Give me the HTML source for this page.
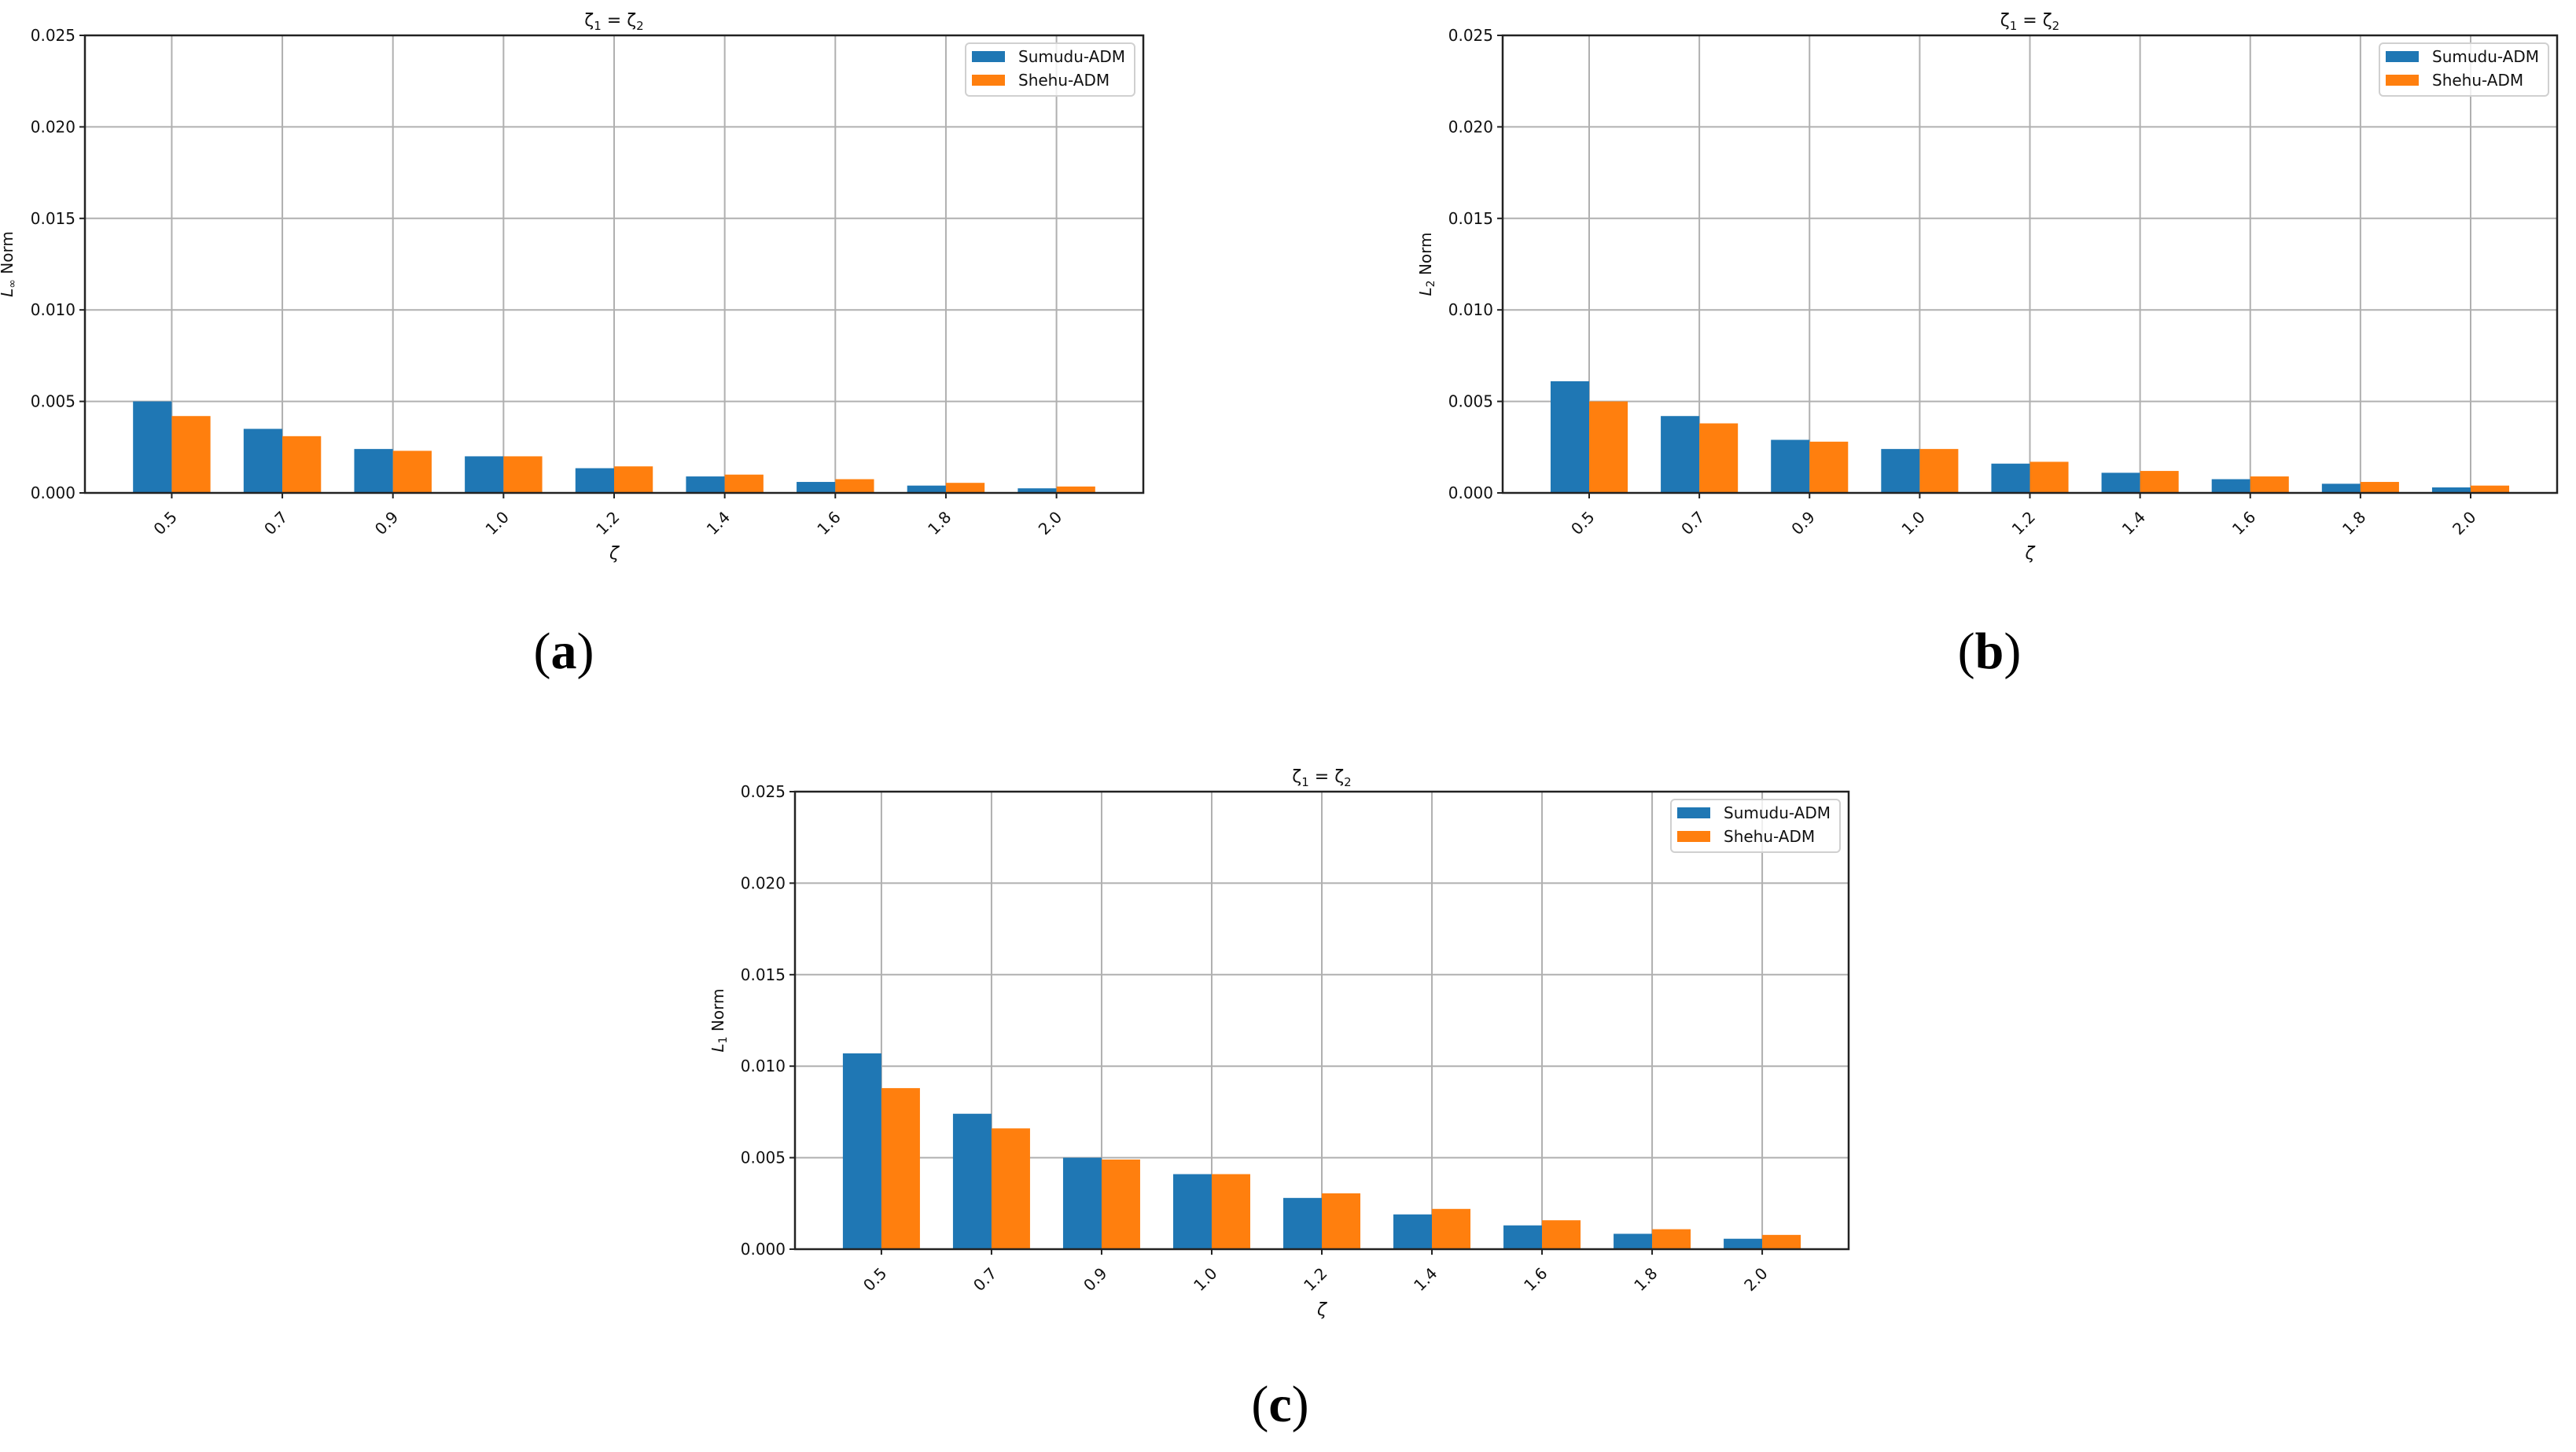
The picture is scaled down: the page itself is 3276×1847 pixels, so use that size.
<!DOCTYPE html>
<html><head><meta charset="utf-8"><style>
html,body{margin:0;padding:0;background:#fff;}
svg{display:block;font-family:"DejaVu Sans","Liberation Sans",sans-serif;}
</style></head><body>
<svg id="fig" width="3276" height="1847" viewBox="0 0 3276 1847" xmlns="http://www.w3.org/2000/svg">
<text x="717" y="850" font-family="'Liberation Serif',serif" font-size="66" text-anchor="middle">(<tspan font-weight="bold">a</tspan>)</text>
<text x="2530" y="850" font-family="'Liberation Serif',serif" font-size="66" text-anchor="middle">(<tspan font-weight="bold">b</tspan>)</text>
<text x="1628" y="1808" font-family="'Liberation Serif',serif" font-size="66" text-anchor="middle">(<tspan font-weight="bold">c</tspan>)</text>
</svg>
<script>
const categories = ["0.5","0.7","0.9","1.0","1.2","1.4","1.6","1.8","2.0"];
const yTicks = [0, 0.005, 0.01, 0.015, 0.02, 0.025];
const yTickLabels = ["0.000","0.005","0.010","0.015","0.020","0.025"];
const seriesNames = ["Sumudu-ADM","Shehu-ADM"];
const linfSumudu = [0.0050,0.0035,0.0024,0.0020,0.00135,0.0009,0.0006,0.0004,0.00025];
const linfShehu  = [0.0042,0.0031,0.0023,0.0020,0.00145,0.0010,0.00075,0.00055,0.00035];
const l2Sumudu = [0.0061,0.0042,0.0029,0.0024,0.0016,0.0011,0.00075,0.0005,0.0003];
const l2Shehu  = [0.0050,0.0038,0.0028,0.0024,0.0017,0.0012,0.0009,0.0006,0.0004];
const l1Sumudu = [0.0107,0.0074,0.0050,0.0041,0.0028,0.0019,0.0013,0.00084,0.00057];
const l1Shehu  = [0.0088,0.0066,0.0049,0.0041,0.00305,0.0022,0.00158,0.00109,0.00078];

const NS = "http://www.w3.org/2000/svg";
const svg = document.getElementById('fig');
const colors = ["#1f77b4","#ff7f0e"];
function mk(tag, attrs, parent){
  const e = document.createElementNS(NS, tag);
  for (const k in attrs) e.setAttribute(k, attrs[k]);
  parent.appendChild(e);
  return e;
}
function panel(id, L, T, W, H, yLabelMain, yLabelSub, s1, s2, ylabX){
  const g = mk('g', {}, svg);
  
  
  const xmin = -0.785, xmax = 8.785, ymax = 0.025;
  const xs = v => L + (v - xmin) / (xmax - xmin) * W;
  const ys = v => T + H - v / ymax * H;
  yTicks.forEach((t, i) => {
    const y = ys(t);
    const gl = mk('line', {x1:L, x2:L+W, y1:y, y2:y, stroke:'#b0b0b0', 'stroke-width':2}, g);
    
    
    mk('line', {x1:L-7, x2:L, y1:y, y2:y, stroke:'#222', 'stroke-width':2}, g);
    const tl = mk('text', {x:L-12, y:y+7, 'font-size':20, 'text-anchor':'end', fill:'#111'}, g);
    tl.textContent = yTickLabels[i];
    
    
  });
  categories.forEach((c, i) => {
    const x = xs(i);
    const gl = mk('line', {x1:x, x2:x, y1:T, y2:T+H, stroke:'#b0b0b0', 'stroke-width':2}, g);
    
    
  });
  const bw = 0.35;
  [s1, s2].forEach((arr, si) => {
    arr.forEach((v, i) => {
      const x0 = xs(i + (si === 0 ? -bw : 0));
      const x1 = xs(i + (si === 0 ? 0 : bw));
      const r = mk('rect', {x:x0, y:ys(v), width:x1-x0, height:ys(0)-ys(v), fill:colors[si]}, g);
      
      
    });
  });
  categories.forEach((c, i) => {
    const x = xs(i);
    mk('line', {x1:x, x2:x, y1:T+H, y2:T+H+7, stroke:'#222', 'stroke-width':2}, g);
    const ty = T+H+32;
    const tl = mk('text', {x:x+8, y:ty, 'font-size':20, 'text-anchor':'end', fill:'#111', transform:'rotate(-45 '+(x+8)+' '+ty+')'}, g);
    tl.textContent = c;
    
    
  });
  const fr = mk('rect', {x:L, y:T, width:W, height:H, fill:'none', stroke:'#222', 'stroke-width':2.5}, g);
  
  
  const title = mk('text', {x:L+W/2, y:T-12, 'font-size':22, 'text-anchor':'middle', fill:'#111'}, g);
  title.innerHTML = 'ζ<tspan font-size="15" dy="5">1</tspan><tspan dy="-5"> = ζ</tspan><tspan font-size="15" dy="5">2</tspan>';
  
  
  const xl = mk('text', {x:L+W/2, y:T+H+84, 'font-size':22, 'text-anchor':'middle', 'font-style':'italic', fill:'#111'}, g);
  xl.textContent = 'ζ';
  
  
  const cy = T + H/2;
  const yl = mk('text', {x:ylabX, y:cy, 'font-size':20, 'text-anchor':'middle', fill:'#111', transform:'rotate(-90 '+ylabX+' '+cy+')'}, g);
  yl.innerHTML = '<tspan font-style="italic">L</tspan><tspan font-size="14" dy="4">' + yLabelSub + '</tspan><tspan dy="-4"> Norm</tspan>';
  
  
  const lx = L + W - 226, ly = T + 10;
  const lg = mk('g', {}, g);
  
  
  mk('rect', {x:lx, y:ly, width:215, height:67, rx:5, fill:'#fff', 'fill-opacity':0.8, stroke:'#d0d0d0', 'stroke-width':2}, lg);
  seriesNames.forEach((n, i) => {
    const e = mk('g', {}, lg);
    
    
    mk('rect', {x:lx+8, y:ly+10+i*30, width:42, height:14, fill:colors[i]}, e);
    const t = mk('text', {x:lx+67, y:ly+24+i*30, 'font-size':20, fill:'#111'}, e);
    t.textContent = n;
  });
}
panel('linf', 108, 45, 1346, 582, 'L', '∞', linfSumudu, linfShehu, 16);
panel('l2', 1911, 45, 1341, 582, 'L', '2', l2Sumudu, l2Shehu, 1820);
panel('l1', 1011, 1007, 1340, 582, 'L', '1', l1Sumudu, l1Shehu, 920);
</script>
</body></html>
